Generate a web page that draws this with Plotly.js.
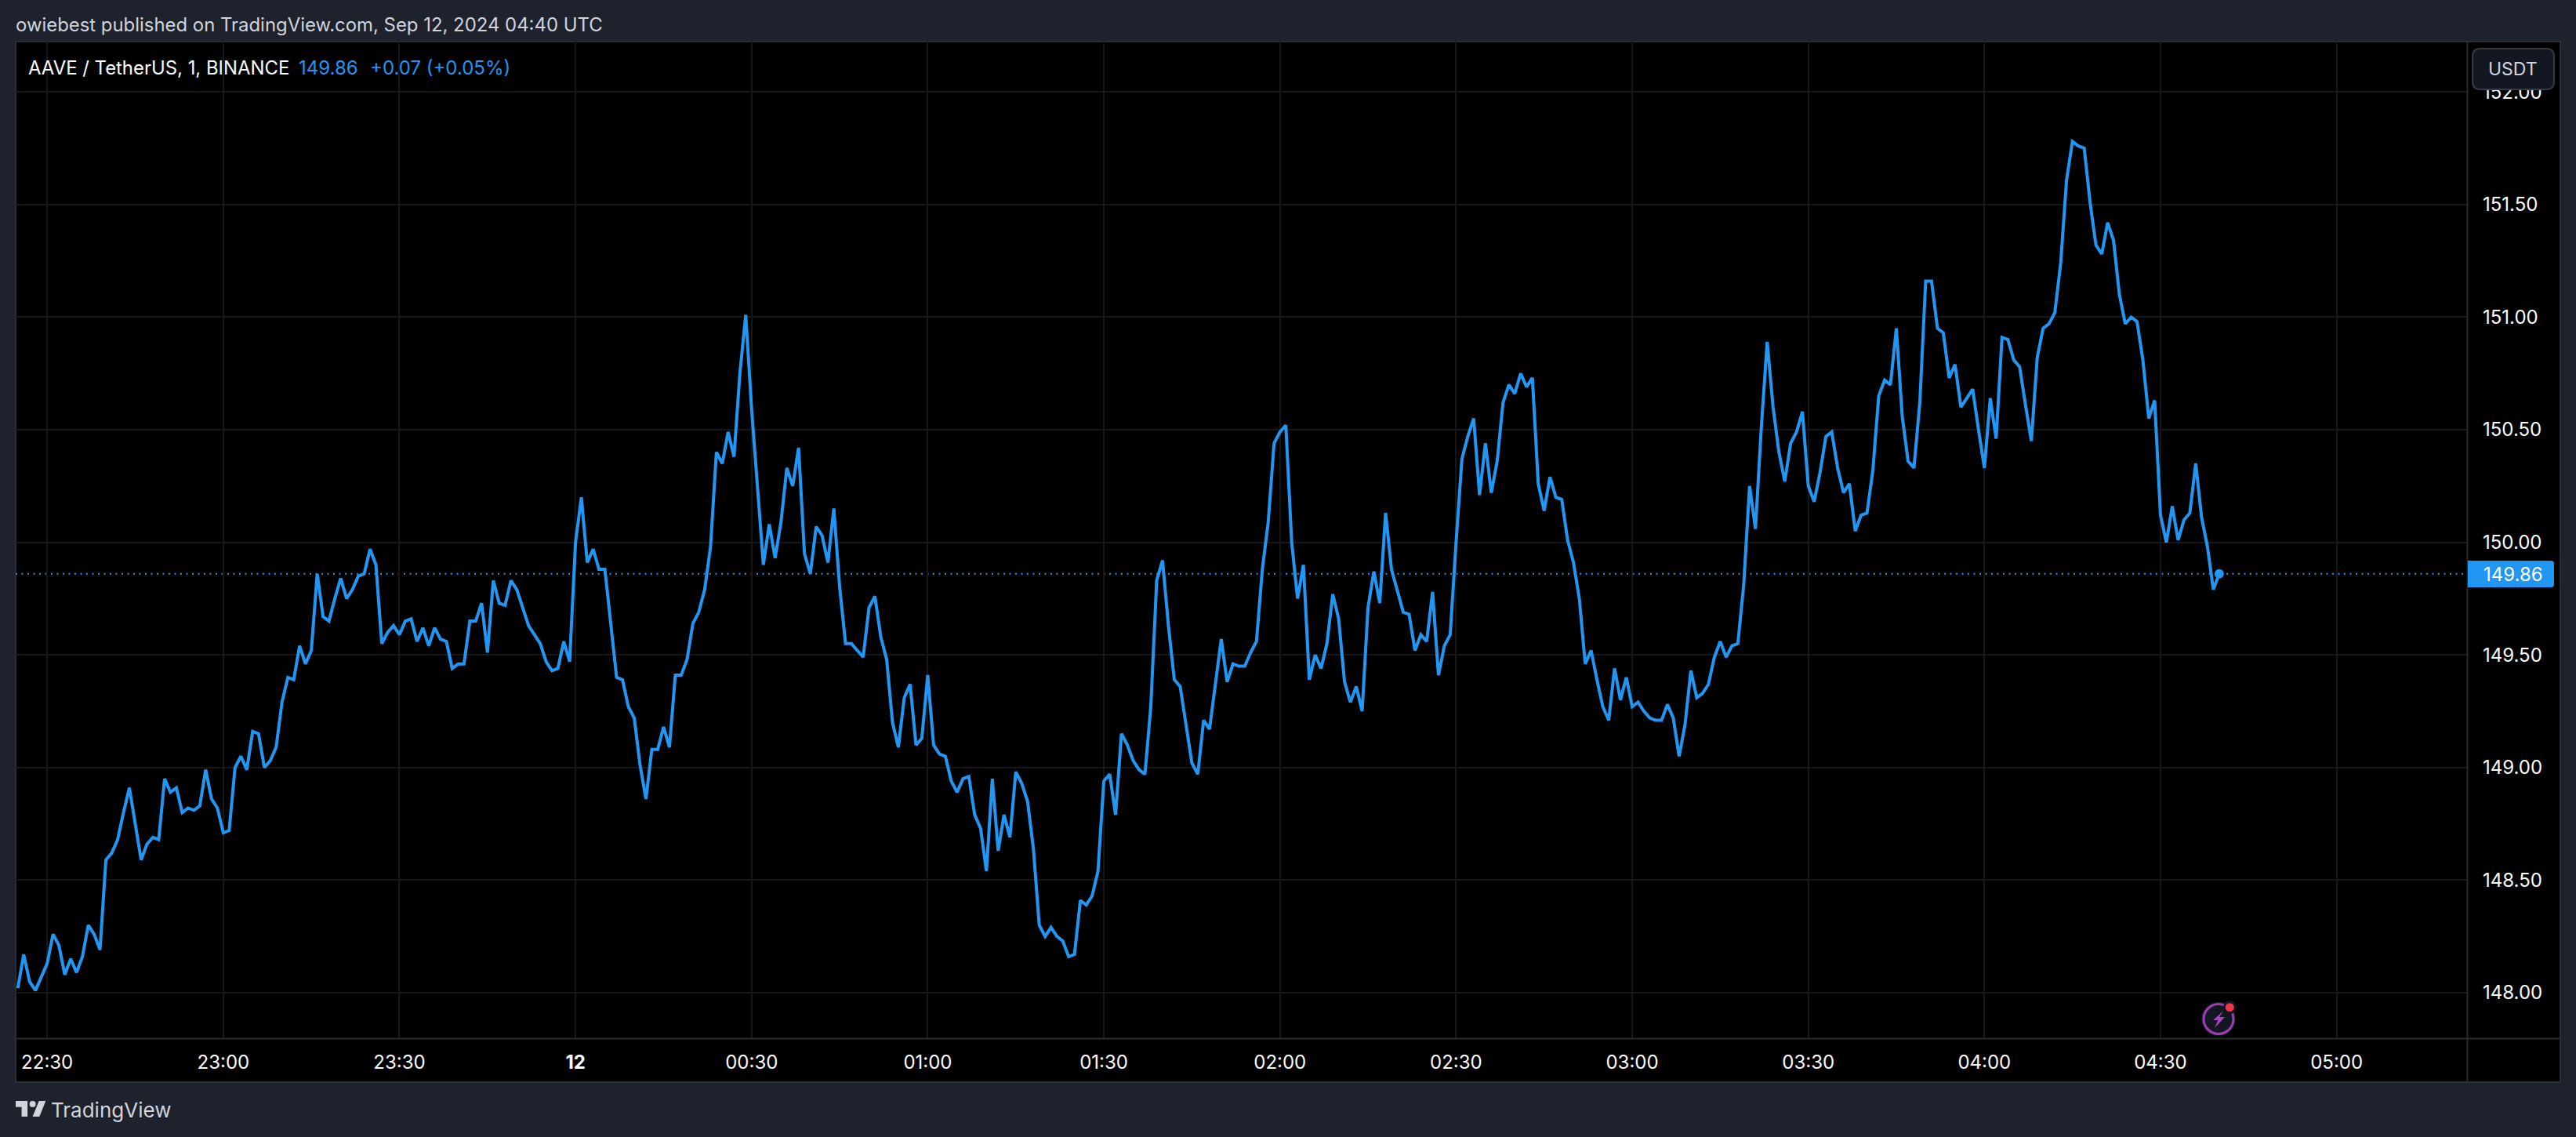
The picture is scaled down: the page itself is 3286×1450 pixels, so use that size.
<!DOCTYPE html>
<html>
<head>
<meta charset="utf-8">
<script src="https://cdn.plot.ly/plotly-3.0.1.min.js"></script>
<style>html,body{margin:0;padding:0;background:#1e222d}</style>
</head>
<body>
<div id="chart" style="width:3286px;height:1450px"></div>
<script>
const firstBar = '2024-09-11T22:25:00Z';
const prices = [
148.02,148.17,148.05,148.01,148.07,148.13,148.26,148.21,148.08,148.15,
148.09,148.16,148.30,148.26,148.19,148.59,148.62,148.68,148.80,148.91,
148.75,148.59,148.66,148.69,148.68,148.95,148.89,148.91,148.80,148.82,
148.81,148.83,148.99,148.86,148.82,148.71,148.72,149.00,149.05,148.99,
149.16,149.15,149.00,149.03,149.09,149.29,149.40,149.39,149.54,149.46,
149.52,149.86,149.67,149.65,149.75,149.84,149.75,149.79,149.85,149.86,
149.97,149.90,149.55,149.60,149.63,149.59,149.65,149.66,149.56,149.62,
149.54,149.62,149.57,149.56,149.44,149.46,149.46,149.65,149.65,149.73,
149.51,149.83,149.73,149.72,149.83,149.79,149.71,149.63,149.59,149.55,
149.47,149.43,149.44,149.56,149.47,150.00,150.20,149.91,149.97,149.88,
149.88,149.64,149.40,149.39,149.27,149.22,149.01,148.86,149.08,149.08,
149.18,149.09,149.41,149.41,149.48,149.64,149.69,149.79,149.98,150.40,
150.35,150.49,150.38,150.75,151.01,150.59,150.23,149.90,150.08,149.93,
150.09,150.33,150.25,150.42,149.95,149.86,150.07,150.03,149.91,150.15,
149.80,149.55,149.55,149.52,149.49,149.71,149.76,149.58,149.48,149.20,
149.09,149.31,149.37,149.10,149.13,149.41,149.10,149.06,149.05,148.94,
148.89,148.95,148.96,148.79,148.73,148.54,148.95,148.63,148.79,148.69,
148.98,148.93,148.85,148.64,148.30,148.25,148.29,148.25,148.23,148.16,
148.17,148.41,148.39,148.43,148.54,148.94,148.97,148.79,149.15,149.10,
149.03,148.99,148.97,149.27,149.83,149.92,149.63,149.39,149.36,149.19,
149.02,148.97,149.21,149.17,149.36,149.57,149.38,149.46,149.45,149.45,
149.51,149.56,149.88,150.09,150.44,150.49,150.52,150.00,149.75,149.90,
149.39,149.50,149.44,149.55,149.77,149.66,149.38,149.29,149.36,149.25,
149.71,149.87,149.73,150.13,149.88,149.79,149.69,149.68,149.52,149.59,
149.56,149.78,149.41,149.54,149.59,150.00,150.37,150.47,150.55,150.21,
150.44,150.22,150.36,150.62,150.70,150.66,150.75,150.69,150.73,150.26,
150.14,150.29,150.20,150.19,150.01,149.91,149.75,149.46,149.52,149.39,
149.27,149.21,149.44,149.30,149.40,149.27,149.29,149.25,149.22,149.21,
149.21,149.28,149.22,149.05,149.19,149.43,149.31,149.33,149.37,149.49,
149.56,149.49,149.54,149.55,149.81,150.25,150.06,150.51,150.89,150.60,
150.40,150.27,150.44,150.49,150.58,150.25,150.18,150.31,150.47,150.49,
150.33,150.22,150.26,150.05,150.12,150.13,150.32,150.65,150.72,150.70,
150.95,150.56,150.36,150.33,150.62,151.16,151.16,150.95,150.93,150.73,
150.79,150.60,150.64,150.68,150.50,150.33,150.64,150.46,150.91,150.90,
150.81,150.78,150.61,150.45,150.82,150.95,150.97,151.02,151.24,151.61,
151.78,151.76,151.75,151.51,151.32,151.28,151.42,151.34,151.10,150.97,
151.00,150.98,150.81,150.55,150.63,150.12,150.00,150.16,150.01,150.10,
150.13,150.35,150.11,149.98,149.79,149.86];
const lastPrice = 149.86;
const tickTimes = ['2024-09-11 22:30','2024-09-11 23:00','2024-09-11 23:30','2024-09-12 00:00','2024-09-12 00:30','2024-09-12 01:00','2024-09-12 01:30','2024-09-12 02:00','2024-09-12 02:30','2024-09-12 03:00','2024-09-12 03:30','2024-09-12 04:00','2024-09-12 04:30','2024-09-12 05:00'];
const tickLabels = ['22:30','23:00','23:30','<b>12</b>','00:30','01:00','01:30','02:00','02:30','03:00','03:30','04:00','04:30','05:00'];
const publishedText = 'owiebest published on TradingView.com, Sep 12, 2024 04:40 UTC';
const symbolText = 'AAVE / TetherUS, 1, BINANCE';
const lastText = '149.86';
const changeText = '+0.07 (+0.05%)';

const times = prices.map((_, i) => new Date(Date.parse(firstBar) + i * 60000).toISOString().replace('T', ' ').slice(0, 19));

const L = 20, R = 3147, T = 53, B = 1324;
const fx = p => (p - L) / (R - L);
const fy = p => 1 - (p - T) / (B - T);
const BLUE = '#2196f3', PAGE = '#1e222d', TXT = '#d1d4dc', FRAME = '#2a2e39', GRID = '#171717';
const FONT = 'Inter, Roboto, sans-serif';

function note(text, x, y, size, color, anchor) {
  return {text, x: fx(x), y: fy(y), xref: 'paper', yref: 'paper', showarrow: false,
    xanchor: anchor || 'left', yanchor: 'middle', borderpad: 0, borderwidth: 0,
    font: {family: FONT, size, color}};
}
function pathPx(pts) {
  return 'M' + pts.map(p => fx(p[0]) + ',' + fy(p[1])).join('L') + 'Z';
}
function rrect(x0, y0, x1, y1, rl, rr) {
  const a = (x, y) => fx(x) + ',' + fy(y);
  return 'M' + a(x0 + rl, y0) + 'L' + a(x1 - rr, y0) + 'Q' + a(x1, y0) + ' ' + a(x1, y0 + rr) +
    'L' + a(x1, y1 - rr) + 'Q' + a(x1, y1) + ' ' + a(x1 - rr, y1) + 'L' + a(x0 + rl, y1) +
    'Q' + a(x0, y1) + ' ' + a(x0, y1 - rl) + 'L' + a(x0, y0 + rl) + 'Q' + a(x0, y0) + ' ' + a(x0 + rl, y0) + 'Z';
}
function shapePx(type, x0, y0, x1, y1, extra) {
  return Object.assign({type, xref: 'paper', yref: 'paper', x0: fx(x0), x1: fx(x1), y0: fy(y0), y1: fy(y1)}, extra);
}
function circlePx(cx, cy, r, extra) { return shapePx('circle', cx - r, cy - r, cx + r, cy + r, extra); }
const noLine = {line: {width: 0}};
const logoX = x => 20 + 1.08 * x, logoY = y => 1404 + 1.11 * (y - 4);

const shapes = [
  shapePx('rect', 20, 53, 3266, 1380, {layer: 'below', fillcolor: '#000000', line: {color: FRAME, width: 2}}),
  shapePx('line', 20, 1324.5, 3266, 1324.5, {layer: 'above', line: {color: '#2a2a2a', width: 2}}),
  shapePx('line', 3147.5, 53, 3147.5, 1380, {layer: 'above', line: {color: '#2a2a2a', width: 2}}),
  {type: 'line', xref: 'paper', yref: 'y', x0: 0, x1: 1, y0: lastPrice, y1: lastPrice, layer: 'below',
    line: {color: BLUE, width: 2, dash: '2px,5.5px'}},
  {type: 'path', xref: 'paper', yref: 'paper', path: rrect(3148, 715, 3258, 749, 0, 4), fillcolor: BLUE, layer: 'above', line: {width: 0}},
  {type: 'path', xref: 'paper', yref: 'paper', path: rrect(3154, 62, 3258, 114, 10, 10), fillcolor: '#131722', layer: 'above', line: {color: '#363a45', width: 2}},
  circlePx(2830, 1299.5, 22, Object.assign({layer: 'above', fillcolor: '#131722'}, noLine)),
  circlePx(2830, 1299.5, 19, {layer: 'above', fillcolor: '#131722', line: {color: '#9c3fb0', width: 3}}),
  circlePx(2844.3, 1284.7, 8.5, Object.assign({layer: 'above', fillcolor: '#131722'}, noLine)),
  circlePx(2844.3, 1284.7, 5.5, Object.assign({layer: 'above', fillcolor: '#f23645'}, noLine)),
  {type: 'path', xref: 'paper', yref: 'paper', layer: 'above', fillcolor: '#ab47bc', line: {width: 0},
    path: pathPx([[2836, 1289.5], [2823, 1301], [2829.5, 1301], [2825, 1311], [2838, 1297], [2831, 1297]])},
  {type: 'path', xref: 'paper', yref: 'paper', layer: 'above', fillcolor: TXT, line: {width: 0},
    path: pathPx([[14, 22], [7, 22], [7, 11], [0, 11], [0, 4], [14, 4]].map(p => [logoX(p[0]), logoY(p[1])]))},
  {type: 'path', xref: 'paper', yref: 'paper', layer: 'above', fillcolor: TXT, line: {width: 0},
    path: pathPx([[28, 22], [20, 22], [27.5, 4], [35.5, 4]].map(p => [logoX(p[0]), logoY(p[1])]))},
  circlePx(logoX(20), logoY(7.6), 4, Object.assign({layer: 'above', fillcolor: TXT}, noLine))
];

const annotations = [
  note(publishedText, 20, 32, 23.9, TXT),
  note(symbolText, 36, 86, 23.9, '#ffffff'),
  note(lastText, 381, 86, 24, BLUE),
  note(changeText, 472, 86, 24, BLUE),
  note(lastText, 3206, 732, 24, '#ffffff', 'center'),
  note('USDT', 3205, 88, 23, TXT, 'center'),
  note('TradingView', 65, 1416, 26, TXT)
];

const data = [
  {type: 'scatter', mode: 'lines', x: times, y: prices, hoverinfo: 'skip', showlegend: false,
    line: {color: BLUE, width: 4, shape: 'linear'}},
  {type: 'scatter', mode: 'markers', x: times.slice(-1), y: prices.slice(-1), hoverinfo: 'skip', showlegend: false,
    marker: {color: BLUE, size: 12, line: {width: 0}}}
];

const layout = {
  width: 3286, height: 1450, autosize: false,
  margin: {l: L, r: 3286 - R, t: T, b: 1450 - B, pad: 0},
  paper_bgcolor: PAGE, plot_bgcolor: 'rgba(0,0,0,0)',
  showlegend: false, font: {family: FONT, color: '#ffffff', size: 24},
  xaxis: {type: 'date', range: ['2024-09-11 22:24:38', '2024-09-12 05:22:13'],
    tickmode: 'array', tickvals: tickTimes, ticktext: tickLabels, ticks: '', tickangle: 0,
    showgrid: true, gridcolor: GRID, gridwidth: 2, zeroline: false, showline: false,
    ticklabelstandoff: 14, tickfont: {family: FONT, size: 24, color: '#ffffff'}},
  yaxis: {type: 'linear', side: 'right', range: [147.798, 152.2235],
    tick0: 148, dtick: 0.5, tickformat: '.2f', ticks: '',
    showgrid: true, gridcolor: GRID, gridwidth: 2, zeroline: false, showline: false,
    ticklabelstandoff: 19, tickfont: {family: FONT, size: 24, color: '#ffffff'}},
  shapes, annotations
};
Plotly.newPlot('chart', data, layout, {displayModeBar: false, responsive: false});
</script>
</body>
</html>
